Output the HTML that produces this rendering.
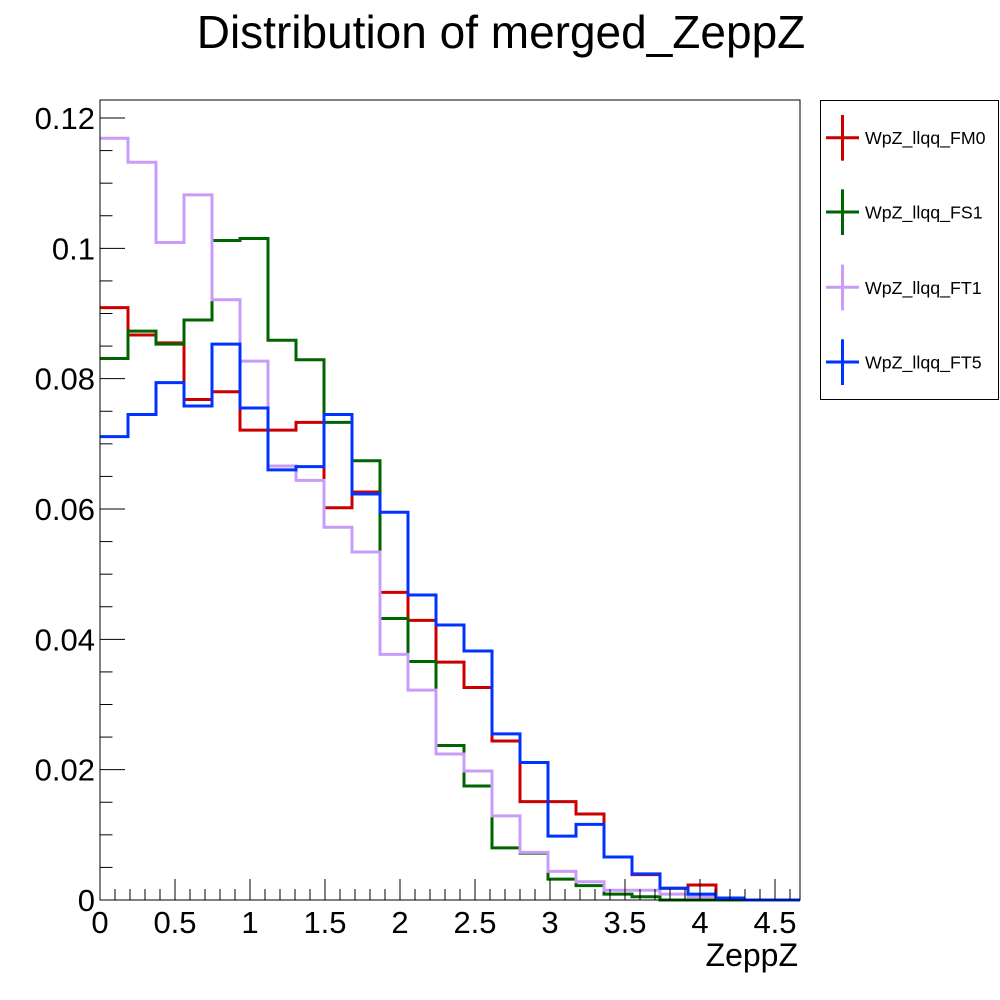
<!DOCTYPE html>
<html><head><meta charset="utf-8"><style>
html,body{margin:0;padding:0;background:#fff;}
svg{display:block;font-family:"Liberation Sans",sans-serif;}
</style></head><body>
<svg id="chart" width="1000" height="1000" viewBox="0 0 1000 1000">
<text x="501" y="48" text-anchor="middle" font-size="46">Distribution of merged_ZeppZ</text>
<g id="marks"></g>
<rect x="100" y="100" width="700" height="800" fill="none" stroke="#000" stroke-width="1"/>
<g id="axes"></g>
<text x="798" y="966" text-anchor="end" font-size="32">ZeppZ</text>
<g id="legend">
<rect x="820.5" y="100.5" width="178" height="299" fill="#fff" stroke="#000" stroke-width="1"/>
</g>
</svg>
<script>
const binEdgeMin = 0;
const binEdgeMax = 4.6667;
const seriesNames = ["WpZ_llqq_FM0","WpZ_llqq_FS1","WpZ_llqq_FT1","WpZ_llqq_FT5"];
const seriesColors = ["#cc0000","#006400","#c99cf7","#0033ff"];
const valuesFM0 = [0.0909,0.0867,0.0855,0.0768,0.0780,0.0721,0.0721,0.0733,0.0602,0.0626,0.0472,0.0429,0.0365,0.0326,0.0244,0.0151,0.0151,0.0132,0.0066,0.0039,0.0018,0.0023,0.0003,0,0];
const valuesFS1 = [0.0831,0.0873,0.0853,0.0890,0.1012,0.1015,0.0859,0.0829,0.0733,0.0674,0.0432,0.0366,0.0237,0.0175,0.0080,0.0072,0.0032,0.0022,0.0009,0.0005,0,0,0,0,0];
const valuesFT1 = [0.1169,0.1132,0.1009,0.1082,0.0921,0.0827,0.0666,0.0644,0.0572,0.0534,0.0377,0.0322,0.0224,0.0198,0.0129,0.0073,0.0044,0.0028,0.0015,0.0015,0.0009,0.0005,0.0002,0,0];
const valuesFT5 = [0.0711,0.0745,0.0794,0.0758,0.0853,0.0755,0.0660,0.0665,0.0745,0.0623,0.0595,0.0468,0.0422,0.0382,0.0255,0.0211,0.0098,0.0116,0.0066,0.0040,0.0018,0.0009,0.0003,0,0];
const yTickValues = [0,0.02,0.04,0.06,0.08,0.1,0.12];
const yTickLabels = ["0","0.02","0.04","0.06","0.08","0.1","0.12"];
const xTickValues = [0,0.5,1,1.5,2,2.5,3,3.5,4,4.5];
const xTickLabels = ["0","0.5","1","1.5","2","2.5","3","3.5","4","4.5"];

const NS="http://www.w3.org/2000/svg";
const X0=100,X1=800,Y0=900,Y1=100;
const yMax=0.12/(782/800);
function xs(v){return X0+(v-binEdgeMin)/(binEdgeMax-binEdgeMin)*(X1-X0);}
function ys(v){return Y0-v/yMax*(Y0-Y1);}
function mk(tag,attrs,parent){const e=document.createElementNS(NS,tag);for(const k in attrs)e.setAttribute(k,attrs[k]);parent.appendChild(e);return e;}

const marks=document.getElementById('marks');
const allSeries=[valuesFM0,valuesFS1,valuesFT1,valuesFT5];
allSeries.forEach((vals,si)=>{
  const n=vals.length, w=(binEdgeMax-binEdgeMin)/n;
  let d="";
  for(let i=0;i<n;i++){
    const xa=xs(binEdgeMin+i*w), xb=xs(binEdgeMin+(i+1)*w), y=ys(vals[i]);
    d+=(i===0?"M":"L")+xa.toFixed(2)+","+y.toFixed(2)+"L"+xb.toFixed(2)+","+y.toFixed(2);
  }
  const p=mk('path',{d:d,fill:'none',stroke:seriesColors[si],'stroke-width':3,'stroke-linejoin':'miter'},marks);
  
  
});

const axes=document.getElementById('axes');
for(let v=0;v<=yMax+1e-9;v+=0.005){
  const major=Math.abs(v/0.02-Math.round(v/0.02))<1e-6;
  const y=ys(v);
  const t=mk('line',{x1:X0,x2:X0+(major?25:12.5),y1:y,y2:y,stroke:'#000','stroke-width':1},axes);
  
  
}
yTickValues.forEach((v,i)=>{
  const t=mk('text',{x:95,y:ys(v)+11,'text-anchor':'end','font-size':31},axes);
  t.textContent=yTickLabels[i];
  
  
});
for(let k=0;k<=46;k++){
  const v=k*0.1;
  const major=k%5===0;
  const x=xs(v);
  const t=mk('line',{x1:x,x2:x,y1:Y0,y2:Y0-(major?21:11),stroke:'#000','stroke-width':1},axes);
  
  
}
xTickValues.forEach((v,i)=>{
  const t=mk('text',{x:xs(v),y:933,'text-anchor':'middle','font-size':31},axes);
  t.textContent=xTickLabels[i];
  
  
});

const lg=document.getElementById('legend');
const legY=[137.7,212,287.3,362];
seriesNames.forEach((nm,i)=>{
  const g=mk('g',{},lg);
  
  
  const y=legY[i];
  mk('line',{x1:826,x2:859,y1:y,y2:y,stroke:seriesColors[i],'stroke-width':3},g);
  mk('line',{x1:842.5,x2:842.5,y1:y-22.7,y2:y+23,stroke:seriesColors[i],'stroke-width':3},g);
  const t=mk('text',{x:865,y:y+6.5,'font-size':17.8},g);
  t.textContent=nm;
});
</script>
</body></html>
